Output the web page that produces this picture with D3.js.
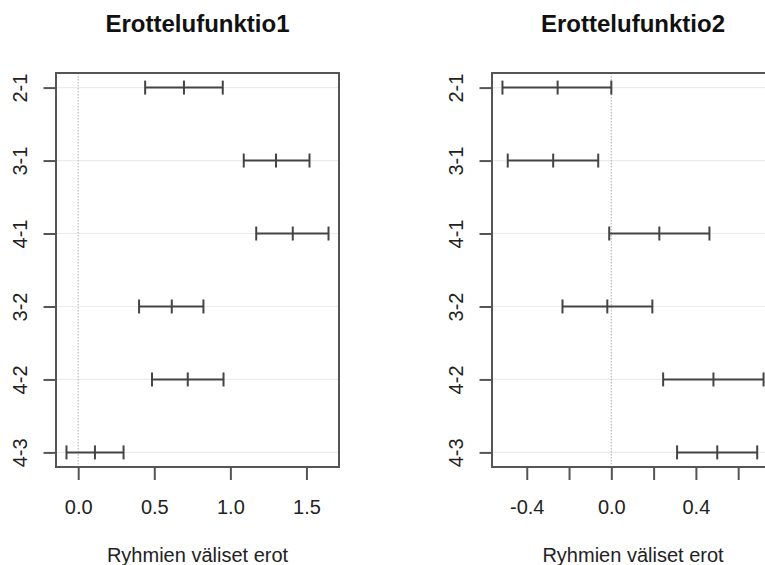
<!DOCTYPE html>
<html>
<head>
<meta charset="utf-8">
<script src="https://cdn.jsdelivr.net/npm/d3@7"></script>
<style>
  html, body { margin: 0; padding: 0; background: #fff; overflow: hidden; }
  svg { display: block; font-family: "Liberation Sans", Arial, sans-serif; }
</style>
</head>
<body>
<svg id="chart" width="765" height="565"></svg>
<script>
// ---- Data ----
const comparisons = ["2-1", "3-1", "4-1", "3-2", "4-2", "4-3"];

const titles = ["Erottelufunktio1", "Erottelufunktio2"];
const xAxisLabel = "Ryhmien väliset erot";

// Erottelufunktio1
const f1Diff  = [0.695, 1.30, 1.41, 0.615, 0.72, 0.11];
const f1Lower = [0.44, 1.088, 1.17, 0.40, 0.485, -0.077];
const f1Upper = [0.95, 1.52, 1.645, 0.823, 0.955, 0.298];
const f1Ticks = [0.0, 0.5, 1.0, 1.5];
const f1TickLabels = ["0.0", "0.5", "1.0", "1.5"];

// Erottelufunktio2
const f2Diff  = [-0.254, -0.275, 0.227, -0.019, 0.483, 0.501];
const f2Lower = [-0.515, -0.49, -0.01, -0.231, 0.245, 0.311];
const f2Upper = [0.0, -0.062, 0.464, 0.194, 0.72, 0.69];
const f2Ticks = [-0.4, -0.2, 0.0, 0.2, 0.4, 0.6];
const f2TickLabels = ["-0.4", "", "0.0", "", "0.4", ""];

// ---- Drawing ----
const svg = d3.select("#chart");
const plotTop = 73, plotBottom = 467;

const panels = [
  { title: titles[0], diff: f1Diff, lower: f1Lower, upper: f1Upper, ticks: f1Ticks, labels: f1TickLabels, left: 56, right: 339 },
  { title: titles[1], diff: f2Diff, lower: f2Lower, upper: f2Upper, ticks: f2Ticks, labels: f2TickLabels, left: 492, right: 774 }
];

const frameColor = "#555";
const barColor = "#444";

panels.forEach(p => {
  const lo = d3.min(p.lower), hi = d3.max(p.upper);
  const pad = (hi - lo) * 0.04;
  const x = d3.scaleLinear().domain([lo - pad, hi + pad]).range([p.left, p.right]);
  const n = comparisons.length;
  const ypad = (n - 1) * 0.04;
  const yIdx = d3.scaleLinear().domain([1 - ypad, n + ypad]).range([plotTop, plotBottom]);
  const y = c => yIdx(comparisons.indexOf(c) + 1);

  const g = svg.append("g");

  // grid lines
  g.selectAll(".grid").data(comparisons).join("line")
    .attr("x1", p.left).attr("x2", p.right)
    .attr("y1", d => y(d)).attr("y2", d => y(d))
    .attr("stroke", "#ececec").attr("stroke-width", 1.2);

  // zero line
  g.append("line")
    .attr("x1", x(0)).attr("x2", x(0))
    .attr("y1", plotTop).attr("y2", plotBottom)
    .attr("stroke", "#bdbdbd").attr("stroke-width", 1.2)
    .attr("stroke-dasharray", "1.5,1.5");

  // error bars
  const bars = g.selectAll(".bar").data(comparisons).join("g");
  bars.append("line")
    .attr("x1", (d, i) => x(p.lower[i])).attr("x2", (d, i) => x(p.upper[i]))
    .attr("y1", d => y(d)).attr("y2", d => y(d))
    .attr("stroke", barColor).attr("stroke-width", 2);
  [p.lower, p.diff, p.upper].forEach(arr => {
    bars.append("line")
      .attr("x1", (d, i) => x(arr[i])).attr("x2", (d, i) => x(arr[i]))
      .attr("y1", d => y(d) - 7).attr("y2", d => y(d) + 7)
      .attr("stroke", barColor).attr("stroke-width", 2);
  });

  // frame
  g.append("rect")
    .attr("x", p.left).attr("y", plotTop)
    .attr("width", p.right - p.left).attr("height", plotBottom - plotTop)
    .attr("fill", "none").attr("stroke", frameColor).attr("stroke-width", 2);

  // x axis
  const xAxis = d3.axisBottom(x).tickValues(p.ticks)
    .tickFormat((d, i) => p.labels[i]).tickSize(13).tickPadding(20);
  const ax = g.append("g").attr("transform", `translate(0,${plotBottom})`).call(xAxis);
  ax.select(".domain").remove();
  ax.selectAll(".tick line").attr("stroke", frameColor).attr("stroke-width", 2);
  ax.selectAll(".tick text").attr("font-size", 20).attr("fill", "#222")
    .attr("font-family", "Liberation Sans, Arial, sans-serif");

  // y axis
  const yAxis = d3.axisLeft(yIdx).tickValues(d3.range(1, n + 1))
    .tickFormat(i => comparisons[i - 1]).tickSize(12.5).tickPadding(0);
  const ay = g.append("g").attr("transform", `translate(${p.left},0)`).call(yAxis);
  ay.select(".domain").remove();
  ay.selectAll(".tick line").attr("stroke", frameColor).attr("stroke-width", 2);
  ay.selectAll(".tick text")
    .attr("font-size", 20).attr("fill", "#222")
    .attr("font-family", "Liberation Sans, Arial, sans-serif")
    .attr("x", null).attr("dy", null)
    .attr("text-anchor", "middle")
    .attr("transform", `translate(${-29},0) rotate(-90)`);

  // title
  const cx = (p.left + p.right) / 2;
  g.append("text").attr("x", cx).attr("y", 32)
    .attr("text-anchor", "middle").attr("font-size", 24).attr("font-weight", "bold")
    .attr("fill", "#111").text(p.title);

  // x label
  g.append("text").attr("x", cx).attr("y", 562)
    .attr("text-anchor", "middle").attr("font-size", 20)
    .attr("fill", "#222").text(xAxisLabel);
});
</script>
</body>
</html>
